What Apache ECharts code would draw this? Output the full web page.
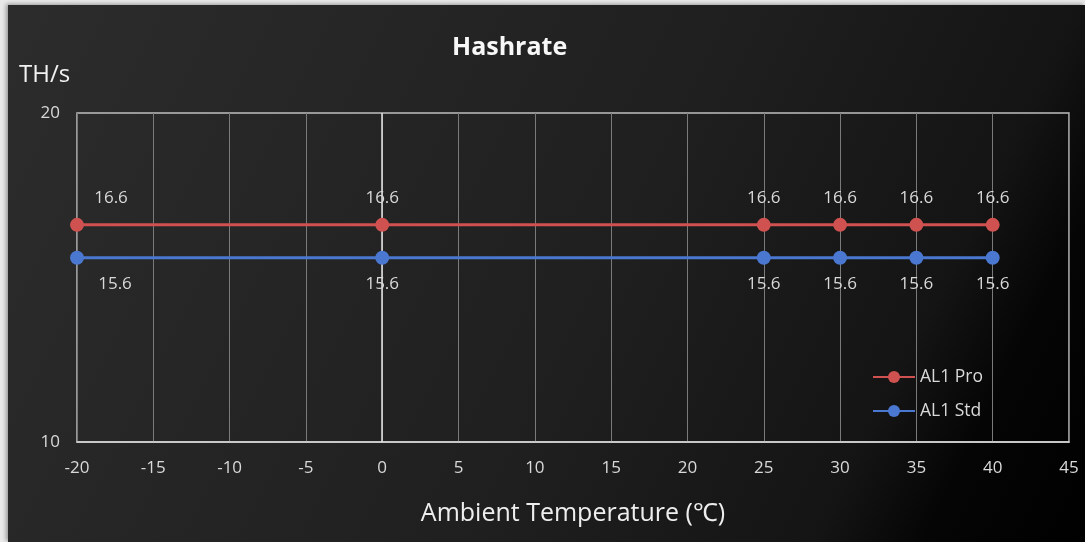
<!DOCTYPE html>
<html>
<head>
<meta charset="utf-8">
<script src="https://cdn.jsdelivr.net/npm/echarts@6/dist/echarts.min.js"></script>
<style>
html,body{margin:0;padding:0;background:#e9e9e9;width:1085px;height:542px;overflow:hidden;}
#chart{position:absolute;left:8px;top:5px;width:1077px;height:537px;box-shadow:-2px -1px 4px rgba(0,0,0,0.35);}
</style>
</head>
<body>
<div id="chart"></div>
<script>
const temps = [-20, 0, 25, 30, 35, 40];
const proValues = [16.6, 16.6, 16.6, 16.6, 16.6, 16.6];
const stdValues = [15.6, 15.6, 15.6, 15.6, 15.6, 15.6];
const seriesNames = ['AL1 Pro', 'AL1 Std'];
const titleText = 'Hashrate';
const yUnit = 'TH/s';
const xName = 'Ambient Temperature (℃)';

const font = '"Open Sans", "Noto Sans", sans-serif';
const labelColor = '#d9d9d9';

function buildData(values, firstOffset) {
  return temps.map((t, i) => {
    const d = { value: [t, values[i]] };
    if (i === 0) d.label = { offset: firstOffset };
    return d;
  });
}

const chart = echarts.init(document.getElementById('chart'));
chart.setOption({
  backgroundColor: {
    type: 'linear', x: 0, y: 0, x2: 1, y2: 1,
    colorStops: [
      { offset: 0, color: '#2c2c2c' },
      { offset: 0.55, color: '#1f1f1f' },
      { offset: 0.8, color: '#141414' },
      { offset: 0.88, color: '#050505' },
      { offset: 1, color: '#000000' }
    ]
  },
  textStyle: { fontFamily: font },
  title: [
    { text: titleText, left: 439, top: 25,
      textStyle: { color: '#f7f7f7', fontSize: 25, fontWeight: 'bold', fontFamily: font } },
    { text: yUnit, left: 6, top: 53,
      textStyle: { color: '#f2f2f2', fontSize: 24, fontWeight: 'normal', fontFamily: font } }
  ],
  legend: {
    orient: 'vertical',
    left: 859, top: 358,
    itemWidth: 42, itemHeight: 15,
    itemGap: 16,
    textStyle: { color: labelColor, fontSize: 17.5, fontFamily: font },
    data: seriesNames
  },
  grid: {
    left: 69, right: 16, top: 108, bottom: 100,
    show: true, borderColor: '#bfbfbf', borderWidth: 1.5, containLabel: false
  },
  xAxis: {
    type: 'value', min: -20, max: 45, interval: 5,
    name: xName, nameLocation: 'middle', nameGap: 59,
    nameTextStyle: { color: '#eeeeee', fontSize: 25, fontFamily: font },
    axisLine: { onZero: false, lineStyle: { color: '#d9d9d9', width: 1.5 } },
    axisTick: { show: false },
    axisLabel: { color: labelColor, fontSize: 17, margin: 18, fontFamily: font },
    splitLine: { show: true, lineStyle: { color: '#7a7a7a', width: 1 } }
  },
  yAxis: {
    type: 'value', min: 10, max: 20, interval: 10,
    axisLine: { show: false },
    axisTick: { show: false },
    axisLabel: { color: labelColor, fontSize: 17, margin: 17, fontFamily: font },
    splitLine: { show: false }
  },
  series: [
    {
      name: seriesNames[0], type: 'line',
      data: buildData(proValues, [34, 0]),
      symbol: 'circle', symbolSize: 14,
      itemStyle: { color: '#cf5250' },
      lineStyle: { color: '#cf5250', width: 3 },
      label: { show: true, position: 'top', distance: 11, color: labelColor, fontSize: 17, fontFamily: font },
      markLine: {
        silent: true, symbol: 'none', label: { show: false },
        lineStyle: { color: '#e6e6e6', width: 1.5, type: 'solid' },
        data: [{ xAxis: 0 }],
        z: 1
      },
      z: 3
    },
    {
      name: seriesNames[1], type: 'line',
      data: buildData(stdValues, [38, 0]),
      symbol: 'circle', symbolSize: 14,
      itemStyle: { color: '#4a78d0' },
      lineStyle: { color: '#4a78d0', width: 3 },
      label: { show: true, position: 'bottom', distance: 11, color: labelColor, fontSize: 17, fontFamily: font },
      z: 3
    }
  ]
});
</script>
</body>
</html>
